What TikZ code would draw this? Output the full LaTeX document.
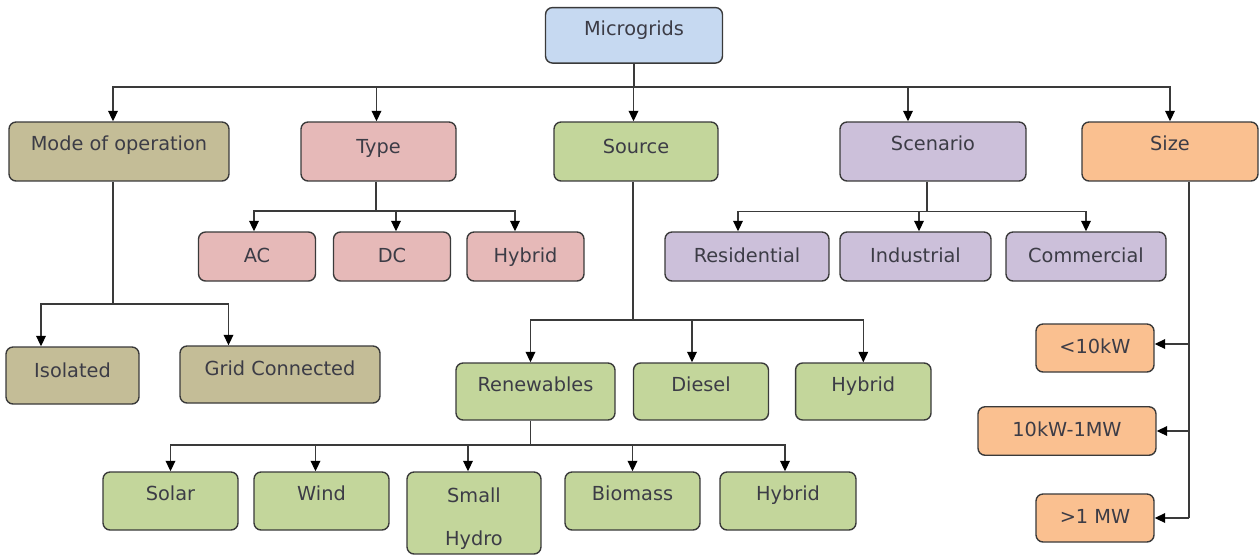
\documentclass[tikz,border=0pt]{standalone}
\usepackage{fontspec}
\setmainfont{DejaVu Sans}
\usetikzlibrary{arrows.meta}
\definecolor{mgc}{HTML}{C6D9F1}
\definecolor{modec}{HTML}{C4BD97}
\definecolor{typec}{HTML}{E6B9B8}
\definecolor{srcc}{HTML}{C3D69B}
\definecolor{scnc}{HTML}{CCC0DA}
\definecolor{sizec}{HTML}{FAC090}
\definecolor{edgec}{HTML}{3A3A3A}
\definecolor{txtc}{HTML}{3C3C46}
\begin{document}
\begin{tikzpicture}[x=0.02cm,y=-0.02cm,
  box/.style={draw=edgec, line width=0.8pt, rounded corners=4pt, inner sep=0pt,
    text=txtc, font=\fontsize{11}{13}\selectfont, text height=8pt},
  ln/.style={draw=edgec, line width=0.8pt},
  arr/.style={ln, -{Triangle[length=6pt,width=5.5pt,color=black]}}]
\path[fill=white] (0,0) rectangle (1259,555);
\useasboundingbox (0,0) rectangle (1259,555);

% root
\node[box, fill=mgc, minimum width=3.54cm, minimum height=1.11cm, text depth=8.3pt] (mg) at (634,35.3) {Microgrids};

% level 1
\node[box, fill=modec, minimum width=4.40cm, minimum height=1.18cm, text depth=9.6pt] (mode) at (119,151.5) {Mode of operation};
\node[box, fill=typec, minimum width=3.10cm, minimum height=1.18cm, text depth=6.2pt] (type) at (378.5,151.5) {Type};
\node[box, fill=srcc, minimum width=3.28cm, minimum height=1.18cm, text depth=6.2pt] (src) at (636,151.5) {Source};
\node[box, fill=scnc, minimum width=3.72cm, minimum height=1.18cm, text depth=9.6pt] (scn) at (933,151.5) {Scenario};
\node[box, fill=sizec, minimum width=3.52cm, minimum height=1.18cm, text depth=9.6pt] (size) at (1170,151.5) {Size};

% type and scenario children
\node[box, fill=typec, minimum width=2.34cm, minimum height=0.98cm, text depth=1.5pt] (ac) at (257,256.5) {AC};
\node[box, fill=typec, minimum width=2.34cm, minimum height=0.98cm, text depth=1.5pt] (dc) at (392,256.5) {DC};
\node[box, fill=typec, minimum width=2.34cm, minimum height=0.98cm, text depth=1.5pt] (hyb1) at (525.5,256.5) {Hybrid};
\node[box, fill=scnc, minimum width=3.28cm, minimum height=0.98cm, text depth=1.5pt] (res) at (747,256.5) {Residential};
\node[box, fill=scnc, minimum width=3.02cm, minimum height=0.98cm, text depth=1.5pt] (ind) at (915.5,256.5) {Industrial};
\node[box, fill=scnc, minimum width=3.20cm, minimum height=0.98cm, text depth=1.5pt] (com) at (1086,256.5) {Commercial};

% mode children
\node[box, fill=modec, minimum width=2.66cm, minimum height=1.14cm, text depth=6.2pt] (iso) at (72.5,375.5) {Isolated};
\node[box, fill=modec, minimum width=4.00cm, minimum height=1.14cm, text depth=7.4pt] (grid) at (280,374.5) {Grid Connected};

% source children
\node[box, fill=srcc, minimum width=3.18cm, minimum height=1.14cm, text depth=8.5pt] (ren) at (535.5,391.5) {Renewables};
\node[box, fill=srcc, minimum width=2.70cm, minimum height=1.14cm, text depth=8.5pt] (die) at (701,391.5) {Diesel};
\node[box, fill=srcc, minimum width=2.71cm, minimum height=1.14cm, text depth=8.5pt] (hyb2) at (863.3,391.5) {Hybrid};

% renewables children
\node[box, fill=srcc, minimum width=2.70cm, minimum height=1.16cm, text depth=9pt] (sol) at (170.5,501) {Solar};
\node[box, fill=srcc, minimum width=2.70cm, minimum height=1.16cm, text depth=9pt] (win) at (321.5,501) {Wind};
\node[box, fill=srcc, minimum width=2.68cm, minimum height=1.64cm, text height=, text depth=, align=center] (hyd) at (474,513) {\rule{0pt}{15.2pt}Small\\[11.4pt]Hydro};
\node[box, fill=srcc, minimum width=2.70cm, minimum height=1.16cm, text depth=9pt] (bio) at (632.5,501) {Biomass};
\node[box, fill=srcc, minimum width=2.72cm, minimum height=1.16cm, text depth=9pt] (hyb3) at (788,501) {Hybrid};

% size children
\node[box, fill=sizec, minimum width=2.36cm, minimum height=0.96cm, text depth=1.5pt] (s1) at (1095,348) {<10kW};
\node[box, fill=sizec, minimum width=3.56cm, minimum height=0.97cm, text depth=1.5pt] (s2) at (1067,431) {10kW-1MW};
\node[box, fill=sizec, minimum width=2.36cm, minimum height=0.96cm, text depth=1.5pt] (s3) at (1095,518) {>1 MW};

% connectors: root
\coordinate (bus) at (634,87);
\draw[ln] (mg.south) -- (bus);
\draw[arr] (bus) -| ([xshift=-0.12cm]mode.north);
\draw[arr] (bus) -| ([xshift=-0.04cm]type.north);
\draw[arr] (bus) -| ([xshift=-0.05cm]src.north);
\draw[arr] (bus) -| ([xshift=-0.50cm]scn.north);
\draw[arr] (bus) -| (size.north);

% type
\coordinate (tb) at (376,211);
\draw[ln] (type.south -| tb) -- (tb);
\draw[arr] (tb) -| ([xshift=-0.06cm]ac.north);
\draw[arr] (tb) -| ([xshift=0.08cm]dc.north);
\draw[arr] (tb) -| ([xshift=-0.21cm]hyb1.north);

% scenario
\coordinate (sb) at (927,211.5);
\draw[ln] (scn.south -| sb) -- (sb);
\draw[arr] (sb) -| ([xshift=-0.18cm]res.north);
\draw[arr] (sb) -| ([xshift=0.07cm]ind.north);
\draw[arr] (sb) -| (com.north);

% mode
\coordinate (mb) at (113,304);
\draw[ln] (mode.south -| mb) -- (mb);
\draw[arr] (mb) -| ([xshift=-0.63cm]iso.north);
\draw[arr] (mb) -| ([xshift=-1.03cm]grid.north);

% source
\coordinate (rb0) at (633,320);
\draw[ln] (src.south -| rb0) -- (rb0);
\draw[arr] (rb0) -| ([xshift=-0.10cm]ren.north);
\draw[arr] (rb0) -| ([xshift=-0.18cm]die.north);
\draw[arr] (rb0) -| (hyb2.north);

% renewables
\coordinate (rb) at (530.6,445);
\draw[ln] (ren.south -| rb) -- (rb);
\draw[arr] (rb) -| (sol.north);
\draw[arr] (rb) -| ([xshift=-0.12cm]win.north);
\draw[arr] (rb) -| ([xshift=-0.12cm]hyd.north);
\draw[arr] (rb) -| (bio.north);
\draw[arr] (rb) -| ([xshift=-0.06cm]hyb3.north);

% size
\coordinate (zb) at (1189,518);
\draw[ln] (size.south -| zb) -- (zb);
\draw[arr] ([yshift=0.08cm]s1.east -| zb) -- ([yshift=0.08cm]s1.east);
\draw[arr] (s2.east -| zb) -- (s2.east);
\draw[arr] (zb) -- (s3.east);
\end{tikzpicture}
\end{document}
